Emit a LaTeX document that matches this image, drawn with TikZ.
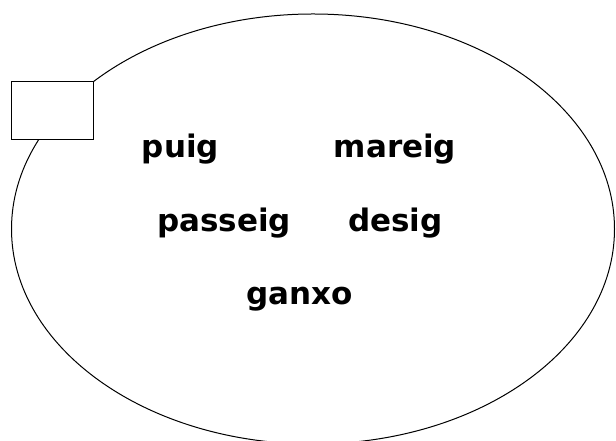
\documentclass[tikz,border=0pt]{standalone}
\usepackage{fontspec}
\setmainfont{DejaVu Sans}
\usetikzlibrary{shapes.geometric}
\begin{document}
\begin{tikzpicture}[x=1pt,y=1pt]
\tikzset{word/.style={font=\fontsize{31}{36}\selectfont\bfseries, anchor=base}}
\useasboundingbox (0,0) rectangle (616,441);
\node[draw, line width=1pt, ellipse, minimum width=603, minimum height=430, inner sep=0] (set) at (313,212) {};
\node[draw, line width=1pt, fill=white, minimum width=82, minimum height=58, inner sep=0] (tag) at (52,330) {};

\node[word] (puig) at (180.5,283) {puig};
\node[word] (mareig) at (395,283) {mareig};
\node[word] (passeig) at (224,209) {passeig};
\node[word] (desig) at (395.5,209) {desig};
\node[word] (ganxo) at (300,136) {ganxo};
\end{tikzpicture}
\end{document}
